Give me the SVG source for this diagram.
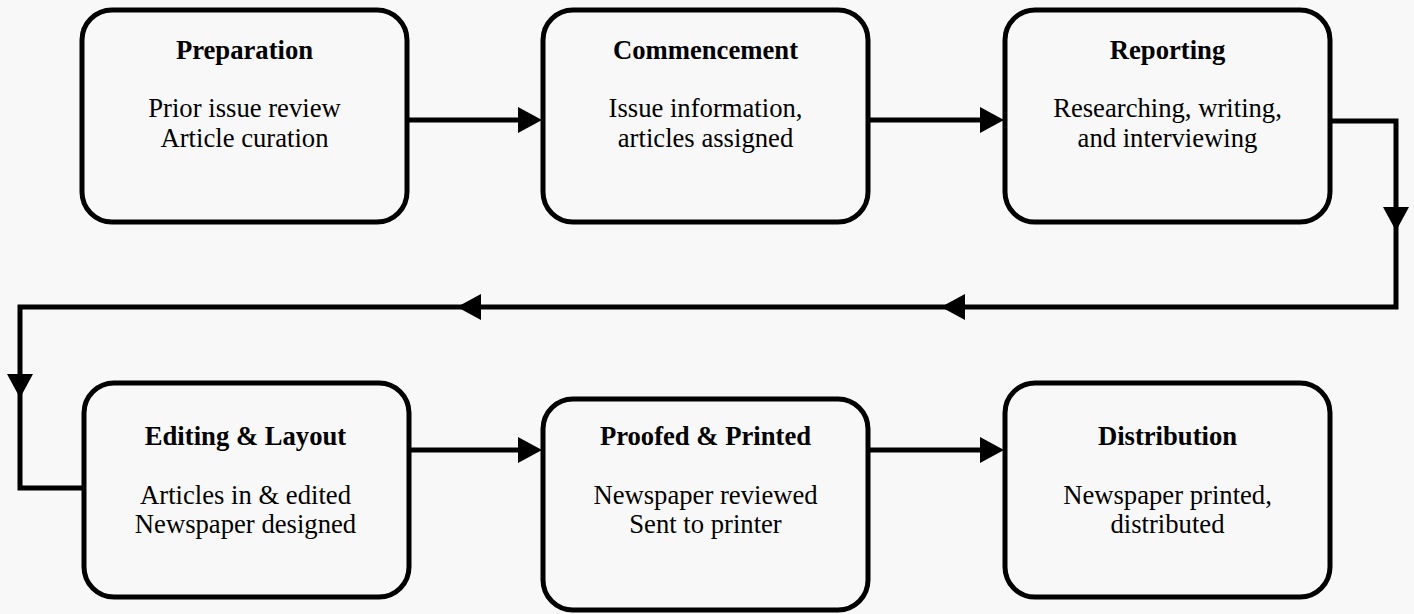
<svg xmlns="http://www.w3.org/2000/svg" xmlns:xlink="http://www.w3.org/1999/xlink" width="1414" height="614" viewBox="0 0 1414 614">
<style>
.box{fill:#f8f8f8;stroke:#000;stroke-width:5}
.conn{fill:none;stroke:#000;stroke-width:5}
.title{font-family:"Liberation Serif","Times New Roman",serif;font-weight:bold;font-size:26.67px;text-anchor:middle;fill:#000}
.body{font-family:"Liberation Serif","Times New Roman",serif;font-size:26.67px;text-anchor:middle;fill:#000}
</style>
<defs>
<path id="ah" d="M0,0 L-24,-13 L-24,13 Z" fill="#000"/>
</defs>
<rect x="0" y="0" width="1414" height="614" fill="#f8f8f8"/>
<g id="connectors">
<path class="conn" d="M407,120 H520"/>
<use xlink:href="#ah" transform="translate(542,120)"/>
<path class="conn" d="M868,120 H982"/>
<use xlink:href="#ah" transform="translate(1004,120)"/>
<path class="conn" d="M1330,121 H1396 V307 H20 V488 H84"/>
<use xlink:href="#ah" transform="translate(1396,231) rotate(90)"/>
<use xlink:href="#ah" transform="translate(941,307) rotate(180)"/>
<use xlink:href="#ah" transform="translate(457,307) rotate(180)"/>
<use xlink:href="#ah" transform="translate(20,398) rotate(90)"/>
<path class="conn" d="M408,450 H520"/>
<use xlink:href="#ah" transform="translate(542,450)"/>
<path class="conn" d="M868,450 H982"/>
<use xlink:href="#ah" transform="translate(1004,450)"/>
</g>
<g id="preparation">
<rect class="box" x="82" y="10" width="325" height="212" rx="30"/>
<text class="title" x="244.5" y="59">Preparation</text>
<text class="body" x="244.5" y="117">Prior issue review</text>
<text class="body" x="244.5" y="147">Article curation</text>
</g>
<g id="commencement">
<rect class="box" x="543" y="10" width="325" height="212" rx="30"/>
<text class="title" x="705.5" y="59">Commencement</text>
<text class="body" x="705.5" y="117">Issue information,</text>
<text class="body" x="705.5" y="147">articles assigned</text>
</g>
<g id="reporting">
<rect class="box" x="1005" y="10" width="325" height="212" rx="30"/>
<text class="title" x="1167.5" y="59">Reporting</text>
<text class="body" x="1167.5" y="117">Researching, writing,</text>
<text class="body" x="1167.5" y="147">and interviewing</text>
</g>
<g id="editing">
<rect class="box" x="84" y="383" width="325" height="214" rx="30"/>
<text class="title" x="245.5" y="445">Editing &amp; Layout</text>
<text class="body" x="245.5" y="504">Articles in &amp; edited</text>
<text class="body" x="245.5" y="533">Newspaper designed</text>
</g>
<g id="proofed">
<rect class="box" x="543" y="399" width="325" height="211" rx="30"/>
<text class="title" x="705.5" y="445">Proofed &amp; Printed</text>
<text class="body" x="705.5" y="504">Newspaper reviewed</text>
<text class="body" x="705.5" y="533">Sent to printer</text>
</g>
<g id="distribution">
<rect class="box" x="1005" y="383" width="325" height="214" rx="30"/>
<text class="title" x="1167.5" y="445">Distribution</text>
<text class="body" x="1167.5" y="504">Newspaper printed,</text>
<text class="body" x="1167.5" y="533">distributed</text>
</g>
</svg>
